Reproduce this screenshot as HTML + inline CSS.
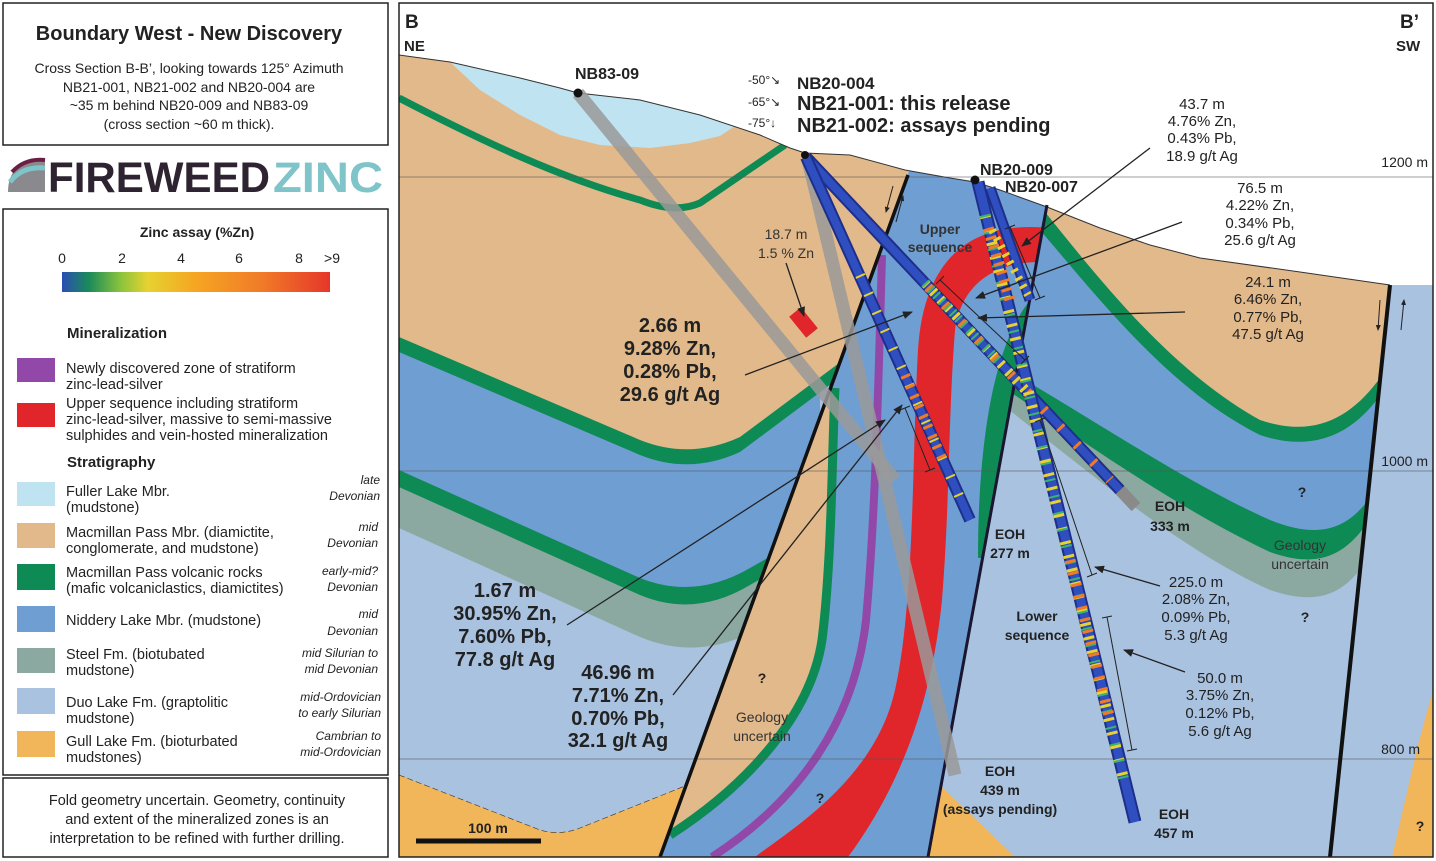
<!DOCTYPE html>
<html><head><meta charset="utf-8"><style>
html,body{margin:0;padding:0;background:#fff;}
svg{display:block;font-family:"Liberation Sans",Arial,sans-serif;}
</style></head><body>
<svg width="1436" height="861" viewBox="0 0 1436 861" xmlns="http://www.w3.org/2000/svg">
<defs>
<clipPath id="cL"><polygon points="399,3 970,3 660,857 399,857"/></clipPath>
<clipPath id="cM"><polygon points="970,3 1084,3 928,857 660,857"/></clipPath>
<clipPath id="cR"><polygon points="1084,3 1420,3 1330,857 928,857"/></clipPath>
<clipPath id="cF"><polygon points="1420,3 1433,3 1433,857 1330,857"/></clipPath>
<linearGradient id="zg" x1="0" x2="1" y1="0" y2="0">
<stop offset="0" stop-color="#2a4fb5"/><stop offset="0.1" stop-color="#1a8a5a"/><stop offset="0.22" stop-color="#8cc43c"/><stop offset="0.32" stop-color="#e6d230"/><stop offset="0.5" stop-color="#f6a522"/><stop offset="0.75" stop-color="#f07a28"/><stop offset="1" stop-color="#e6362a"/>
</linearGradient>
<marker id="ar" markerWidth="10" markerHeight="8" refX="9" refY="4" orient="auto" markerUnits="userSpaceOnUse"><path d="M0,0 L10,4 L0,8 Z" fill="#222"/></marker>
<marker id="as" markerWidth="6" markerHeight="5" refX="5" refY="2.5" orient="auto" markerUnits="userSpaceOnUse"><path d="M0,0 L6,2.5 L0,5 Z" fill="#222"/></marker>
</defs>

<rect x="3" y="3" width="385" height="142" fill="#fff" stroke="#222" stroke-width="1.5"/>
<text x="189" y="40" font-size="20" font-weight="bold" text-anchor="middle" fill="#222">Boundary West - New Discovery</text>
<g font-size="14" text-anchor="middle" fill="#222">
<text x="189" y="73">Cross Section B-B’, looking towards 125° Azimuth</text>
<text x="189" y="92">NB21-001, NB21-002 and NB20-004 are</text>
<text x="189" y="110">~35 m behind NB20-009 and NB83-09</text>
<text x="189" y="129">(cross section ~60 m thick).</text>
</g>
<path d="M8,192 Q8,160 45,158 L45,192 Z" fill="#8a8a8e"/>
<path d="M12,172 Q25,158 45,160" stroke="#6b1f45" stroke-width="4" fill="none"/>
<path d="M10,182 Q22,166 45,168" stroke="#7ec4c8" stroke-width="5" fill="none"/>
<text x="48" y="192" font-size="43" font-weight="bold" fill="#2e2431" textLength="222" lengthAdjust="spacingAndGlyphs">FIREWEED</text>
<text x="273" y="192" font-size="43" font-weight="bold" fill="#7ec4c8" textLength="110" lengthAdjust="spacingAndGlyphs">ZINC</text>

<rect x="3" y="209" width="385" height="566" fill="#fff" stroke="#222" stroke-width="1.5"/>
<text x="197" y="237" font-size="14" font-weight="bold" text-anchor="middle" fill="#222">Zinc assay (%Zn)</text>
<g font-size="14" fill="#222" text-anchor="middle">
<text x="62" y="263">0</text><text x="122" y="263">2</text><text x="181" y="263">4</text><text x="239" y="263">6</text><text x="299" y="263">8</text><text x="332" y="263">&gt;9</text>
</g>
<rect x="62" y="272" width="268" height="20" fill="url(#zg)"/>
<text x="67" y="338" font-size="15" font-weight="bold" fill="#222">Mineralization</text>
<rect x="17" y="358" width="38" height="24" fill="#9148a8"/>
<rect x="17" y="403" width="38" height="24" fill="#e0262a"/>
<g font-size="14.5" fill="#222">
<text x="66" y="373">Newly discovered zone of stratiform</text>
<text x="66" y="389">zinc-lead-silver</text>
<text x="66" y="408">Upper sequence including stratiform</text>
<text x="66" y="424">zinc-lead-silver, massive to semi-massive</text>
<text x="66" y="440">sulphides and vein-hosted mineralization</text>
</g>
<text x="67" y="467" font-size="15" font-weight="bold" fill="#222">Stratigraphy</text>
<rect x="17" y="482" width="38" height="24" fill="#bfe3f0"/>
<rect x="17" y="523" width="38" height="25" fill="#e2b98a"/>
<rect x="17" y="564" width="38" height="26" fill="#0e8a55"/>
<rect x="17" y="606" width="38" height="26" fill="#6f9ed3"/>
<rect x="17" y="648" width="38" height="25" fill="#8ca9a1"/>
<rect x="17" y="688" width="38" height="26" fill="#a9c2e0"/>
<rect x="17" y="731" width="38" height="26" fill="#f2b65a"/>
<g font-size="14.5" fill="#222">
<text x="66" y="496">Fuller Lake Mbr.</text><text x="66" y="512">(mudstone)</text>
<text x="66" y="537">Macmillan Pass Mbr. (diamictite,</text><text x="66" y="553">conglomerate, and mudstone)</text>
<text x="66" y="577">Macmillan Pass volcanic rocks</text><text x="66" y="593">(mafic volcaniclastics, diamictites)</text>
<text x="66" y="625">Niddery Lake Mbr. (mudstone)</text>
<text x="66" y="659">Steel Fm. (biotubated</text><text x="66" y="675">mudstone)</text>
<text x="66" y="707">Duo Lake Fm. (graptolitic</text><text x="66" y="723">mudstone)</text>
<text x="66" y="746">Gull Lake Fm. (bioturbated</text><text x="66" y="762">mudstones)</text>
</g>
<g font-size="12" fill="#222" text-anchor="end" font-style="italic">
<text x="380" y="484">late</text><text x="380" y="500">Devonian</text>
<text x="378" y="531">mid</text><text x="378" y="547">Devonian</text>
<text x="378" y="575">early-mid?</text><text x="378" y="591">Devonian</text>
<text x="378" y="618">mid</text><text x="378" y="635">Devonian</text>
<text x="378" y="657">mid Silurian to</text><text x="378" y="673">mid Devonian</text>
<text x="381" y="701">mid-Ordovician</text><text x="381" y="717">to early Silurian</text>
<text x="381" y="740">Cambrian to</text><text x="381" y="756">mid-Ordovician</text>
</g>
<rect x="3" y="778" width="385" height="79" fill="#fff" stroke="#222" stroke-width="1.5"/>
<g font-size="14.5" fill="#222" text-anchor="middle">
<text x="197" y="805">Fold geometry uncertain. Geometry, continuity</text>
<text x="197" y="824">and extent of the mineralized zones is an</text>
<text x="197" y="843">interpretation to be refined with further drilling.</text>
</g>

<g clip-path="url(#cL)">
<rect x="399" y="3" width="600" height="854" fill="#a9c2e0"/>
<path d="M399,528 L640,637 Q700,662 760,628 L820,590 L820,-10 L399,-10 Z" fill="#8ca9a1"/>
<path d="M399,487 L640,595 Q695,618 750,585 L820,545 L820,-10 L399,-10 Z" fill="#0e8a55"/>
<path d="M399,470 L640,578 Q695,600 750,568 L820,528 L820,-10 L399,-10 Z" fill="#6f9ed3"/>
<path d="M399,352 L640,455 Q690,475 740,452 L870,355 L870,-10 L399,-10 Z" fill="#0e8a55"/>
<path d="M399,337 L640,440 Q690,460 740,437 L870,340 L1000,-10 L399,-10 Z" fill="#e2b98a"/>
<path d="M399,775 L540,830 Q560,836 580,828 L700,780 L700,857 L399,857 Z" fill="#f2b65a" stroke="#333" stroke-width="0.6" stroke-dasharray="6 3"/>
<path d="M399,98 C480,140 560,178 640,200 Q675,214 700,203 L785,145" stroke="#0e8a55" stroke-width="7" fill="none"/>
<path d="M450,62 L520,78 L578,93 L640,100 L700,115 L735,126 L720,136 L690,143 L650,148 L600,145 L560,135 L520,115 L480,90 Z" fill="#bfe3f0"/>
</g>

<g clip-path="url(#cM)">
<rect x="650" y="3" width="450" height="854" fill="#6f9ed3"/>
<path d="M820,380 L835,390 C832,450 832,560 822,640 C810,720 740,790 670,835 L600,857 L600,380 Z" fill="#e2b98a"/>
<path d="M835,388 C832,450 832,560 822,640 C810,720 740,790 670,835" stroke="#0e8a55" stroke-width="9" fill="none"/>
<path d="M882,255 C878,400 875,520 866,620 C855,720 800,800 712,857" stroke="#9148a8" stroke-width="8" fill="none"/>
<path d="M1050,228 C990,222 925,240 918,350 C912,450 915,600 895,690 C875,780 790,830 755,857 L848,857 C890,800 930,720 942,600 C950,500 948,420 955,330 C962,280 1000,262 1040,262 Z" fill="#e0262a"/>
<path d="M1035,295 C1000,330 978,420 978,558 L1100,558 L1100,295 Z" fill="#0e8a55"/>
</g>

<g clip-path="url(#cR)">
<rect x="920" y="3" width="520" height="854" fill="#a9c2e0"/>
<path d="M990,395 C1080,465 1180,550 1270,590 C1320,607 1350,595 1375,545 L1440,-10 L990,-10 Z" fill="#8ca9a1"/>
<path d="M990,378 C1080,440 1180,510 1270,552 C1320,570 1350,555 1375,510 L1440,-10 L990,-10 Z" fill="#0e8a55"/>
<path d="M990,360 C1080,410 1180,480 1270,520 C1320,540 1350,530 1375,490 L1440,-10 L990,-10 Z" fill="#6f9ed3"/>
<path d="M1040,230 C1100,300 1170,390 1260,435 C1320,455 1365,430 1395,370 L1440,-10 L1040,-10 Z" fill="#0e8a55"/>
<path d="M1045,212 C1100,280 1170,370 1260,420 C1320,440 1360,415 1395,355 L1440,-10 L1045,-10 Z" fill="#e2b98a"/>
<polygon points="938,783 1015,857 920,857" fill="#f2b65a"/>
</g>

<g clip-path="url(#cF)">
<rect x="1320" y="3" width="120" height="854" fill="#a9c2e0"/>
<polygon points="1433,690 1433,857 1392,857 1418,745" fill="#f2b65a"/>
</g>

<polygon points="399,3 399,55 450,62 520,78 560,88 578,93 640,100 700,115 760,135 790,148 805,153 850,155 905,170 950,178 975,182 1000,190 1047,207 1100,228 1150,245 1200,258 1300,272 1390,285 1433,285 1433,3" fill="#fff"/>
<polyline points="399,55 450,62 520,78 560,88 578,93 640,100 700,115 760,135 790,148 805,153 850,155 905,170 950,178 975,182 1000,190 1047,207 1100,228 1150,245 1200,258 1300,272 1390,285" fill="none" stroke="#333" stroke-width="1"/>

<g stroke="#555" stroke-width="0.8" opacity="0.75">
<line x1="399" y1="177" x2="1433" y2="177"/>
<line x1="399" y1="471" x2="1433" y2="471"/>
<line x1="399" y1="759" x2="1433" y2="759"/>
</g>
<g font-size="14" fill="#222" text-anchor="end">
<text x="1428" y="167">1200 m</text>
<text x="1428" y="466">1000 m</text>
<text x="1420" y="754">800 m</text>
</g>

<line x1="908" y1="175" x2="660" y2="857" stroke="#111" stroke-width="3.5"/>
<line x1="1047" y1="205" x2="928" y2="857" stroke="#1a1530" stroke-width="3"/>
<line x1="1390" y1="285" x2="1330" y2="857" stroke="#111" stroke-width="4"/>

<line x1="578" y1="93" x2="895" y2="480" stroke="#9a9a9a" stroke-width="13" opacity="0.85"/>
<line x1="808" y1="160" x2="955" y2="775" stroke="#9a9a9a" stroke-width="13" opacity="0.85"/>
<line x1="795" y1="312" x2="812" y2="333" stroke="#e0262a" stroke-width="15"/>

<g fill="none" stroke-linecap="butt">
<line x1="1120" y1="490" x2="1136" y2="507" stroke="#8a8a8a" stroke-width="12"/>
<line x1="806" y1="157" x2="1120" y2="490" stroke="#1d2f8a" stroke-width="12"/>
<line x1="806" y1="157" x2="1120" y2="490" stroke="#2f4fc0" stroke-width="8"/>
<line x1="806" y1="157" x2="970" y2="520" stroke="#1d2f8a" stroke-width="12"/>
<line x1="806" y1="157" x2="970" y2="520" stroke="#2f4fc0" stroke-width="8"/>
<line x1="978" y1="182" x2="1135" y2="822" stroke="#1d2f8a" stroke-width="13"/>
<line x1="978" y1="182" x2="1135" y2="822" stroke="#2f4fc0" stroke-width="9"/>
<line x1="990" y1="188" x2="1030" y2="300" stroke="#1d2f8a" stroke-width="11"/>
<line x1="990" y1="188" x2="1030" y2="300" stroke="#2f4fc0" stroke-width="7"/>
<line x1="925" y1="283" x2="1030" y2="395" stroke="#e6d230" stroke-width="10" stroke-dasharray="3 8"/>
<line x1="928" y1="287" x2="1110" y2="480" stroke="#f07a28" stroke-width="10" stroke-dasharray="3 21"/>
<line x1="925" y1="283" x2="1000" y2="363" stroke="#3cb46e" stroke-width="10" stroke-dasharray="2 6"/>
<line x1="860" y1="275" x2="960" y2="498" stroke="#e6d230" stroke-width="10" stroke-dasharray="2 18"/>
<line x1="905" y1="375" x2="945" y2="465" stroke="#f07a28" stroke-width="10" stroke-dasharray="3 8"/>
<line x1="985" y1="215" x2="1125" y2="785" stroke="#e6d230" stroke-width="11" stroke-dasharray="3 11"/>
<line x1="985" y1="215" x2="1125" y2="785" stroke="#3cb46e" stroke-width="11" stroke-dasharray="2 15"/>
<line x1="1070" y1="560" x2="1110" y2="720" stroke="#f07a28" stroke-width="11" stroke-dasharray="3 9"/>
<line x1="988" y1="228" x2="1010" y2="300" stroke="#f07a28" stroke-width="11" stroke-dasharray="3 6"/>
<line x1="992" y1="230" x2="1028" y2="295" stroke="#e6d230" stroke-width="8" stroke-dasharray="3 6"/>
</g>
<circle cx="578" cy="93" r="4.5" fill="#111"/>
<circle cx="805" cy="155" r="4" fill="#111"/>
<circle cx="975" cy="180" r="4.5" fill="#111"/>

<g stroke="#222" stroke-width="1.3" fill="none" marker-end="url(#ar)">
<line x1="1150" y1="148" x2="1022" y2="246"/>
<line x1="1182" y1="222" x2="976" y2="298"/>
<line x1="1185" y1="312" x2="978" y2="318"/>
<line x1="745" y1="375" x2="912" y2="312"/>
<line x1="567" y1="625" x2="885" y2="420"/>
<line x1="673" y1="695" x2="902" y2="405"/>
<line x1="1160" y1="586" x2="1095" y2="567"/>
<line x1="1185" y1="672" x2="1124" y2="650"/>
<line x1="786" y1="263" x2="804" y2="316"/>
</g>
<!-- interval brackets with end ticks -->
<g stroke="#222" stroke-width="1" fill="none">
<line x1="1010" y1="227" x2="1040" y2="298"/>
<line x1="1005" y1="229" x2="1015" y2="225"/><line x1="1035" y1="300" x2="1045" y2="296"/>
<line x1="940" y1="280" x2="1025" y2="360"/>
<line x1="936" y1="284" x2="944" y2="276"/><line x1="1021" y1="364" x2="1029" y2="356"/>
<line x1="1040" y1="420" x2="1092" y2="575"/>
<line x1="1035" y1="422" x2="1045" y2="418"/><line x1="1087" y1="577" x2="1097" y2="573"/>
<line x1="1107" y1="617" x2="1132" y2="750"/>
<line x1="1102" y1="618" x2="1112" y2="616"/><line x1="1127" y1="751" x2="1137" y2="749"/>
<line x1="905" y1="408" x2="930" y2="470"/>
<line x1="900" y1="410" x2="910" y2="406"/><line x1="925" y1="472" x2="935" y2="468"/>
</g>
<!-- fault movement arrows -->
<g stroke="#222" stroke-width="1" fill="none" marker-end="url(#as)">
<line x1="893" y1="186" x2="886" y2="212"/>
<line x1="896" y1="222" x2="903" y2="196"/>
<line x1="1380" y1="300" x2="1378" y2="330"/>
<line x1="1401" y1="330" x2="1404" y2="300"/>
</g>

<g fill="#222">
<text x="405" y="28" font-size="19" font-weight="bold">B</text>
<text x="404" y="51" font-size="15" font-weight="bold">NE</text>
<text x="1400" y="28" font-size="19" font-weight="bold">B’</text>
<text x="1396" y="51" font-size="15" font-weight="bold">SW</text>
<text x="575" y="79" font-size="16" font-weight="bold">NB83-09</text>
<text x="748" y="84" font-size="12">-50°↘</text>
<text x="748" y="106" font-size="12">-65°↘</text>
<text x="748" y="127" font-size="12">-75°↓</text>
<text x="797" y="89" font-size="17" font-weight="bold">NB20-004</text>
<text x="797" y="110" font-size="20" font-weight="bold">NB21-001: this release</text>
<text x="797" y="132" font-size="20" font-weight="bold">NB21-002: assays pending</text>
<text x="980" y="175" font-size="16" font-weight="bold">NB20-009</text>
<text x="1005" y="192" font-size="16" font-weight="bold">NB20-007</text>
</g>
<g fill="#222" font-size="15" text-anchor="middle">
<text x="1202" y="109">43.7 m</text><text x="1202" y="126">4.76% Zn,</text><text x="1202" y="143">0.43% Pb,</text><text x="1202" y="161">18.9 g/t Ag</text>
<text x="1260" y="193">76.5 m</text><text x="1260" y="210">4.22% Zn,</text><text x="1260" y="228">0.34% Pb,</text><text x="1260" y="245">25.6 g/t Ag</text>
<text x="1268" y="287">24.1 m</text><text x="1268" y="304">6.46% Zn,</text><text x="1268" y="322">0.77% Pb,</text><text x="1268" y="339">47.5 g/t Ag</text>
<text x="1196" y="587">225.0 m</text><text x="1196" y="604">2.08% Zn,</text><text x="1196" y="622">0.09% Pb,</text><text x="1196" y="640">5.3 g/t Ag</text>
<text x="1220" y="683">50.0 m</text><text x="1220" y="700">3.75% Zn,</text><text x="1220" y="718">0.12% Pb,</text><text x="1220" y="736">5.6 g/t Ag</text>
</g>
<g fill="#333" font-size="14" text-anchor="middle">
<text x="786" y="239">18.7 m</text><text x="786" y="258">1.5 % Zn</text>
<text x="1300" y="550">Geology</text><text x="1300" y="569">uncertain</text>
<text x="762" y="722">Geology</text><text x="762" y="741">uncertain</text>
</g>
<g fill="#222" font-size="20" font-weight="bold" text-anchor="middle">
<text x="670" y="332">2.66 m</text><text x="670" y="355">9.28% Zn,</text><text x="670" y="378">0.28% Pb,</text><text x="670" y="401">29.6 g/t Ag</text>
<text x="505" y="597">1.67 m</text><text x="505" y="620">30.95% Zn,</text><text x="505" y="643">7.60% Pb,</text><text x="505" y="666">77.8 g/t Ag</text>
<text x="618" y="679">46.96 m</text><text x="618" y="702">7.71% Zn,</text><text x="618" y="725">0.70% Pb,</text><text x="618" y="747">32.1 g/t Ag</text>
</g>
<g fill="#222" font-size="14" font-weight="bold" text-anchor="middle">
<text x="940" y="234" fill="#333">Upper</text><text x="940" y="252" fill="#333">sequence</text>
<text x="1037" y="621">Lower</text><text x="1037" y="640">sequence</text>
<text x="1010" y="539">EOH</text><text x="1010" y="558">277 m</text>
<text x="1170" y="511">EOH</text><text x="1170" y="531">333 m</text>
<text x="1000" y="776">EOH</text><text x="1000" y="795">439 m</text><text x="1000" y="814">(assays pending)</text>
<text x="1174" y="819">EOH</text><text x="1174" y="838">457 m</text>
<text x="1302" y="497">?</text><text x="1305" y="622">?</text><text x="762" y="683">?</text><text x="820" y="803">?</text><text x="1420" y="831">?</text>
<text x="488" y="833">100 m</text>
</g>
<line x1="416" y1="841" x2="541" y2="841" stroke="#111" stroke-width="5"/>

<rect x="399" y="3" width="1034" height="854" fill="none" stroke="#222" stroke-width="1.5"/>
</svg>
</body></html>
